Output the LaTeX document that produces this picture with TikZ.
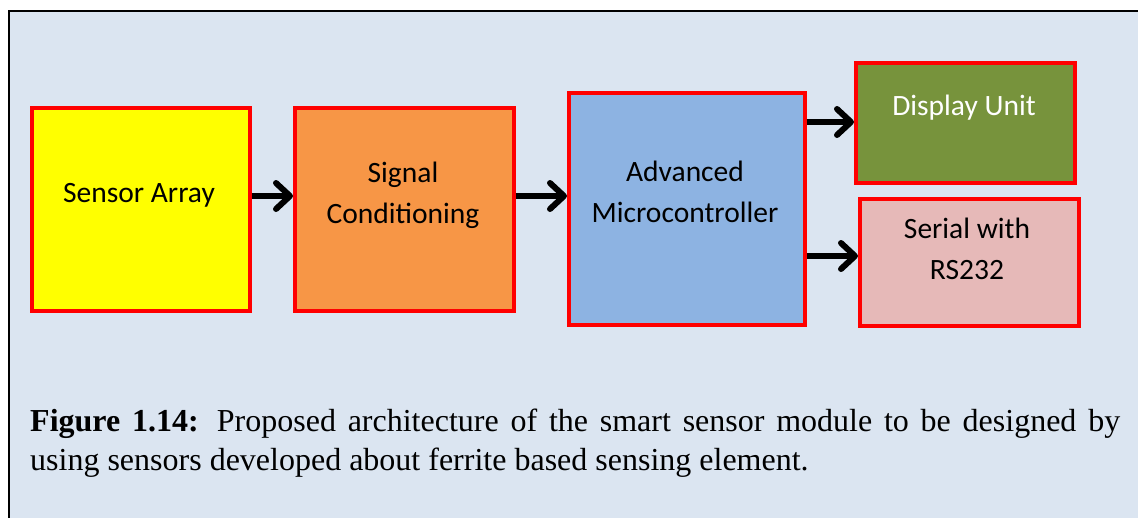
\documentclass[tikz,border=0pt]{standalone}
\usepackage{fontspec}
\setmainfont{Liberation Serif}
\newfontfamily\boxfont{Carlito}
\usetikzlibrary{arrows.meta}
\definecolor{panelbg}{HTML}{DBE5F1}
\definecolor{sensorfill}{HTML}{FFFF00}
\definecolor{condfill}{HTML}{F79646}
\definecolor{mcufill}{HTML}{8DB3E2}
\definecolor{dispfill}{HTML}{77933C}
\definecolor{serialfill}{HTML}{E6B9B8}
\tikzset{
  block/.style={draw=red, line width=3.5pt, anchor=north west, inner sep=0pt},
  blocktext/.style={font=\boxfont\fontsize{29.5}{41}\selectfont, align=center, inner sep=0pt},
  flow/.style={line width=6pt, -{Straight Barb[length=14pt,width=26pt,line cap=round,line join=round]}}
}
\begin{document}
\begin{tikzpicture}[x=1pt,y=-1pt]
\useasboundingbox (0,0) rectangle (1138,517);
\begin{scope}
\clip (0,0) rectangle (1138,517);
\draw[line width=2pt, fill=panelbg] (9,11) rectangle (1150,530);
\end{scope}

% blocks
\node[block, fill=sensorfill, minimum width=218pt, minimum height=203pt] (sens) at (30,106) {};
\node[block, fill=condfill, minimum width=219pt, minimum height=203pt] (cond) at (293,106) {};
\node[block, fill=mcufill, minimum width=236pt, minimum height=232pt] (mcu) at (567,91) {};
\node[block, fill=dispfill, minimum width=219pt, minimum height=120pt] (disp) at (854,61) {};
\node[block, fill=serialfill, minimum width=219pt, minimum height=127pt] (ser) at (858,197) {};

% block labels
\node[blocktext] (senst) at (139,195) {Sensor Array};
\node[blocktext] (condt) at (403,195) {Signal\\Conditioning};
\node[blocktext] (mcut) at (685,192) {Advanced\\Microcontroller};
\node[blocktext, text=white] (dispt) at (964,108) {Display Unit};
\node[blocktext] (sert) at (967,249) {Serial with\\RS232};

% signal flow
\draw[flow] (sens.east |- 0,196) -- (cond.west |- 0,196);
\draw[flow] (cond.east |- 0,196) -- (mcu.west |- 0,196);
\draw[flow] (mcu.east |- 0,122) -- (disp.west |- 0,122);
\draw[flow] (mcu.east |- 0,256) -- (ser.west |- 0,256);

% caption
\node[anchor=north west, inner sep=0pt, text width=1090pt, align=justify,
      font=\fontsize{32}{39}\selectfont] (cap) at (30,409)
  {\textbf{Figure 1.14:} Proposed architecture of the smart sensor module to be designed by\linebreak using sensors developed about ferrite based sensing element.};
\end{tikzpicture}
\end{document}
